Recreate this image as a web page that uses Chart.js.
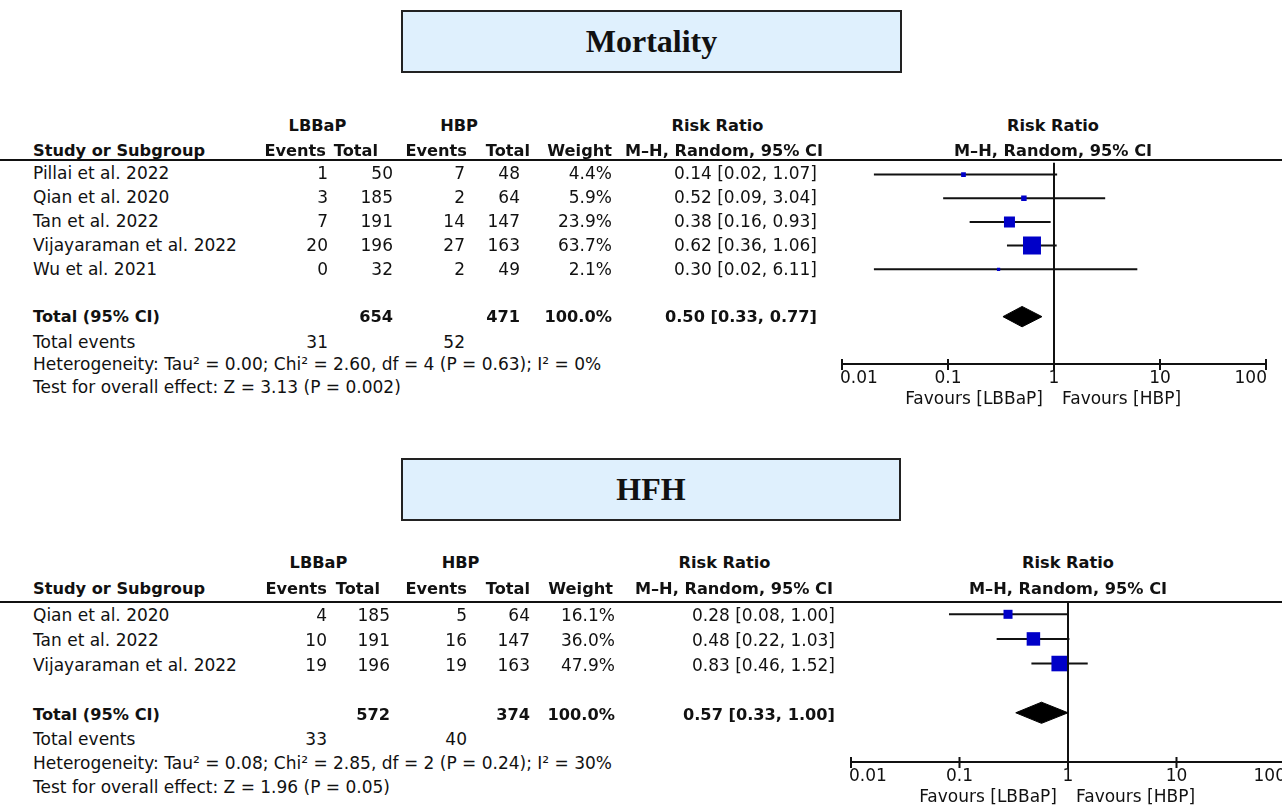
<!DOCTYPE html>
<html>
<head>
<meta charset="utf-8">
<title>Mortality and HFH forest plots</title>
<script src="https://cdn.jsdelivr.net/npm/chart.js@4.4.1/dist/chart.umd.min.js"></script>
<style>
html, body { margin: 0; padding: 0; width: 1282px; height: 805px; overflow: hidden; background: #fff; }
body { position: relative; font-family: "DejaVu Sans", sans-serif; color: #111; }
.t { position: absolute; white-space: nowrap; font-size: 17px; line-height: 20px; height: 20px; }
.b { font-weight: bold; font-size: 16.2px; }
.box { position: absolute; box-sizing: border-box; border: 2px solid #222; background: #dff0fd;
       font-family: "Liberation Serif", serif; font-weight: bold; font-size: 32px; text-align: center; }
.rule { position: absolute; left: 0; width: 1282px; height: 2px; background: #111; }
canvas { position: absolute; }
</style>
</head>
<body>
<div class="box" style="left:401px;top:10px;width:501px;height:63px;line-height:59px">Mortality</div>
<div class="box" style="left:401px;top:458px;width:500px;height:63px;line-height:59px">HFH</div>
<div class="rule" style="top:159px"></div>
<div class="rule" style="top:601px"></div>
<canvas id="mortChart" width="482" height="270" style="left:800px;top:150px"></canvas>
<canvas id="hfhChart" width="500" height="215" style="left:800px;top:590px"></canvas>
<script>
// Mortality
const mortStudies = ['Pillai et al. 2022', 'Qian et al. 2020', 'Tan et al. 2022', 'Vijayaraman et al. 2022', 'Wu et al. 2021'];
const mortLbbapEvents = [1, 3, 7, 20, 0];
const mortLbbapTotal = [50, 185, 191, 196, 32];
const mortHbpEvents = [7, 2, 14, 27, 2];
const mortHbpTotal = [48, 64, 147, 163, 49];
const mortWeight = [4.4, 5.9, 23.9, 63.7, 2.1];
const mortRR = [0.14, 0.52, 0.38, 0.62, 0.30];
const mortLower = [0.02, 0.09, 0.16, 0.36, 0.02];
const mortUpper = [1.07, 3.04, 0.93, 1.06, 6.11];
const mortPooled = [0.50, 0.33, 0.77];
const mortTotals = [654, 471];
const mortTotalEvents = [31, 52];
const mortHet = 'Heterogeneity: Tau² = 0.00; Chi² = 2.60, df = 4 (P = 0.63); I² = 0%';
const mortTest = 'Test for overall effect: Z = 3.13 (P = 0.002)';

// HFH
const hfhStudies = ['Qian et al. 2020', 'Tan et al. 2022', 'Vijayaraman et al. 2022'];
const hfhLbbapEvents = [4, 10, 19];
const hfhLbbapTotal = [185, 191, 196];
const hfhHbpEvents = [5, 16, 19];
const hfhHbpTotal = [64, 147, 163];
const hfhWeight = [16.1, 36.0, 47.9];
const hfhRR = [0.28, 0.48, 0.83];
const hfhLower = [0.08, 0.22, 0.46];
const hfhUpper = [1.00, 1.03, 1.52];
const hfhPooled = [0.57, 0.33, 1.00];
const hfhTotals = [572, 374];
const hfhTotalEvents = [33, 40];
const hfhHet = 'Heterogeneity: Tau² = 0.08; Chi² = 2.85, df = 2 (P = 0.24); I² = 30%';
const hfhTest = 'Test for overall effect: Z = 1.96 (P = 0.05)';

const tickValues = [0.01, 0.1, 1, 10, 100];
const tickLabels = ['0.01', '0.1', '1', '10', '100'];
const favoursLeft = 'Favours [LBBaP]';
const favoursRight = 'Favours [HBP]';

document.addEventListener('DOMContentLoaded', function () {

    function addText(str, x, y, align, bold) {
        const el = document.createElement('div');
        el.className = bold ? 't b' : 't';
        el.textContent = str;
        el.style.top = (y - 10) + 'px';
        if (align === 'left') {
            el.style.left = x + 'px';
        } else if (align === 'right') {
            el.style.left = (x - 500) + 'px';
            el.style.width = '500px';
            el.style.textAlign = 'right';
        } else {
            el.style.left = (x - 250) + 'px';
            el.style.width = '500px';
            el.style.textAlign = 'center';
        }
        document.body.appendChild(el);
    }

    function fmt(v) { return v.toFixed(2); }

    // table part of one panel, lay = pixel layout of that panel
    function renderTable(lay, studies, le, lt, he, ht, w, rr, lo, hi, pooled, totals, events, het, test) {
        addText('LBBaP', lay.h1x[0], lay.head1, 'center', true);
        addText('HBP', lay.h1x[1], lay.head1, 'center', true);
        addText('Risk Ratio', lay.h1x[2], lay.head1, 'center', true);
        addText('Risk Ratio', lay.h1x[3], lay.head1, 'center', true);

        addText('Study or Subgroup', 33, lay.head2, 'left', true);
        const heads = ['Events', 'Total', 'Events', 'Total', 'Weight', 'M–H, Random, 95% CI'];
        heads.forEach((h, i) => addText(h, lay.h2x[i], lay.head2, 'right', true));
        addText('M–H, Random, 95% CI', lay.h1x[3], lay.head2, 'center', true);

        const c = lay.cols;
        studies.forEach((s, i) => {
            const y = lay.row0 + i * lay.step;
            addText(s, 33, y, 'left');
            addText(String(le[i]), c[0], y, 'right');
            addText(String(lt[i]), c[1], y, 'right');
            addText(String(he[i]), c[2], y, 'right');
            addText(String(ht[i]), c[3], y, 'right');
            addText(w[i].toFixed(1) + '%', c[4], y, 'right');
            addText(fmt(rr[i]) + ' [' + fmt(lo[i]) + ', ' + fmt(hi[i]) + ']', c[5], y, 'right');
        });

        const ty = lay.row0 + (studies.length + 1) * lay.step;
        addText('Total (95% CI)', 33, ty, 'left', true);
        addText(String(totals[0]), c[1], ty, 'right', true);
        addText(String(totals[1]), c[3], ty, 'right', true);
        addText('100.0%', c[4], ty, 'right', true);
        addText(fmt(pooled[0]) + ' [' + fmt(pooled[1]) + ', ' + fmt(pooled[2]) + ']', c[5], ty, 'right', true);

        addText('Total events', 33, lay.foot[0], 'left');
        addText(String(events[0]), c[0], lay.foot[0], 'right');
        addText(String(events[1]), c[2], lay.foot[0], 'right');
        addText(het, 33, lay.foot[1], 'left');
        addText(test, 33, lay.foot[2], 'left');
    }

    // axis, line of no effect and favours labels, drawn from the chart scales
    const forestAxis = {
        id: 'forestAxis',
        beforeDatasetsDraw(chart, args, opts) {
            const xs = chart.scales.x, ys = chart.scales.y, ctx = chart.ctx;
            const x1 = xs.getPixelForValue(1);
            const top = ys.getPixelForValue(-0.5);
            const axisY = ys.getPixelForValue(opts.axisRow);
            ctx.save();
            ctx.strokeStyle = '#111';
            ctx.lineWidth = 2;
            ctx.beginPath();
            ctx.moveTo(x1, top);
            ctx.lineTo(x1, axisY);
            ctx.moveTo(xs.getPixelForValue(opts.ticks[0]), axisY);
            ctx.lineTo(xs.getPixelForValue(opts.ticks[opts.ticks.length - 1]), axisY);
            opts.ticks.forEach(v => {
                const px = xs.getPixelForValue(v);
                ctx.moveTo(px, axisY - 5);
                ctx.lineTo(px, axisY + 6);
            });
            ctx.stroke();

            ctx.fillStyle = '#111';
            ctx.font = '17px "DejaVu Sans"';
            ctx.textBaseline = 'middle';
            opts.labels.forEach((lab, i) => {
                const px = xs.getPixelForValue(opts.ticks[i]);
                if (i === 0) { ctx.textAlign = 'left'; ctx.fillText(lab, px - 2, axisY + 15); }
                else if (i === opts.labels.length - 1) { ctx.textAlign = 'right'; ctx.fillText(lab, px + 1, axisY + 15); }
                else { ctx.textAlign = 'center'; ctx.fillText(lab, px, axisY + 15); }
            });
            ctx.textAlign = 'right';
            ctx.fillText(favoursLeft, x1 - 11, axisY + 36);
            ctx.textAlign = 'left';
            ctx.fillText(favoursRight, x1 + 8, axisY + 36);
            ctx.restore();
        }
    };

    function renderForest(canvas, rr, lower, upper, weight, pooled, axisRow, pad) {
        const datasets = [{
            data: rr.map((v, i) => ({ x: v, y: i })),
            pointStyle: 'rect',
            pointRadius: weight.map(w => 2.25 * Math.sqrt(w) / Math.SQRT2),
            backgroundColor: '#0000c8',
            borderWidth: 0,
            order: 0
        }];
        rr.forEach((v, i) => {
            datasets.push({
                data: [{ x: lower[i], y: i }, { x: upper[i], y: i }],
                showLine: true,
                borderColor: '#111',
                borderWidth: 2,
                pointRadius: 0,
                order: 1
            });
        });
        const totalRow = rr.length + 1;
        datasets.push({
            data: [
                { x: pooled[1], y: totalRow },
                { x: pooled[0], y: totalRow - 0.43 },
                { x: pooled[2], y: totalRow },
                { x: pooled[0], y: totalRow + 0.43 },
                { x: pooled[1], y: totalRow }
            ],
            showLine: true,
            fill: 'shape',
            backgroundColor: '#000',
            borderColor: '#000',
            borderWidth: 1,
            pointRadius: 0,
            tension: 0,
            order: 1
        });

        new Chart(canvas, {
            type: 'scatter',
            data: { datasets: datasets },
            options: {
                responsive: false,
                animation: false,
                events: [],
                layout: { padding: pad },
                scales: {
                    x: { type: 'logarithmic', min: 0.01, max: 100, display: false },
                    y: { type: 'linear', min: -0.5, max: axisRow, reverse: true, display: false }
                },
                plugins: {
                    legend: { display: false },
                    tooltip: { enabled: false },
                    forestAxis: { axisRow: axisRow, ticks: tickValues, labels: tickLabels }
                }
            },
            plugins: [forestAxis]
        });
    }

    renderTable({
        head1: 126, head2: 151, row0: 173, step: 24,
        h1x: [317.5, 459, 717.5, 1053],
        h2x: [326, 378, 467, 530, 612, 823],
        cols: [328, 393, 465, 520, 612, 817],
        foot: [342, 364, 387]
    }, mortStudies, mortLbbapEvents, mortLbbapTotal, mortHbpEvents, mortHbpTotal, mortWeight,
       mortRR, mortLower, mortUpper, mortPooled, mortTotals, mortTotalEvents, mortHet, mortTest);

    renderTable({
        head1: 563, head2: 589, row0: 615, step: 25,
        h1x: [318.5, 460.5, 724.5, 1068],
        h2x: [327, 380, 467, 530, 613, 833],
        cols: [327, 390, 467, 530, 615, 835],
        foot: [739, 763, 787]
    }, hfhStudies, hfhLbbapEvents, hfhLbbapTotal, hfhHbpEvents, hfhHbpTotal, hfhWeight,
       hfhRR, hfhLower, hfhUpper, hfhPooled, hfhTotals, hfhTotalEvents, hfhHet, hfhTest);

    renderForest(document.getElementById('mortChart'), mortRR, mortLower, mortUpper, mortWeight,
        mortPooled, 8, { left: 42, right: 16, top: 10, bottom: 56 });
    renderForest(document.getElementById('hfhChart'), hfhRR, hfhLower, hfhUpper, hfhWeight,
        hfhPooled, 6, { left: 51, right: 15, top: 12, bottom: 43 });
});
</script>
</body>
</html>
